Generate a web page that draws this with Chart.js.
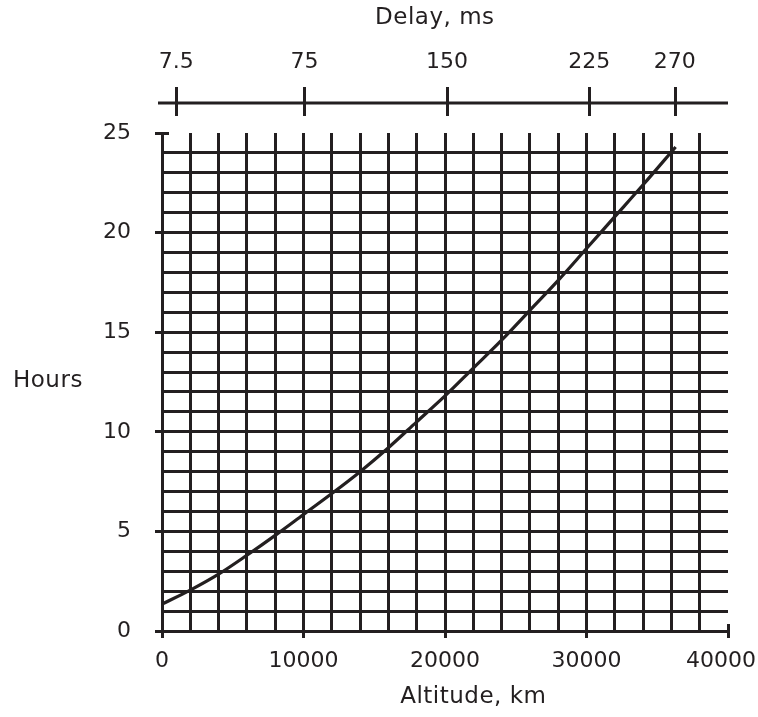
<!DOCTYPE html>
<html><head><meta charset="utf-8">
<script src="https://cdn.jsdelivr.net/npm/chart.js@4.4.1/dist/chart.umd.min.js"></script>
<style>html,body{margin:0;padding:0;background:#fff;} #wrap{width:758px;height:717px;position:relative;}</style>
</head><body><div id="wrap"><canvas id="c"></canvas></div>
<script>
// ---- data ----
const altitudeKm  = [0, 2000, 4000, 6000, 8000, 10000, 12000, 14000, 16000, 18000, 20000, 22000, 24000, 26000, 28000, 30000, 32000, 34000, 36300];
const periodHours = [1.35, 2.05, 2.85, 3.8, 4.8, 5.85, 6.9, 8.0, 9.2, 10.5, 11.8, 13.2, 14.6, 16.1, 17.6, 19.2, 20.8, 22.4, 24.3];
const altitudeTicks = [0, 10000, 20000, 30000, 40000];
const hourTicks = [0, 5, 10, 15, 20, 25];
const delayTicksMs = [7.5, 75, 150, 225, 270];
const delayTickLabels = ['7.5', '75', '150', '225', '270'];
const altitudeRange = [0, 40000];
const hourRange = [0, 25];
const delayRange = [0, 298];
const titles = {top: 'Delay, ms', bottom: 'Altitude, km', left: 'Hours'};

const ink = '#231f20';
const FONT = '"DejaVu Sans", sans-serif';
const clear = 'rgba(0,0,0,0)';

const axisDecor = {
  id: 'axisDecor',
  afterDraw(chart) {
    const {ctx, chartArea: a, scales} = chart;
    const x2 = scales.x2;
    const w = a.right - a.left;
    ctx.save();
    ctx.strokeStyle = ink; ctx.lineWidth = 3; ctx.lineCap = 'butt';
    const yLine = a.top - 30;
    ctx.beginPath(); ctx.moveTo(a.left - 4, yLine); ctx.lineTo(a.right, yLine); ctx.stroke();
    delayTicksMs.forEach(v => {
      const px = Math.round(x2.getPixelForValue(v)) + 0.5;
      ctx.beginPath(); ctx.moveTo(px, yLine - 16); ctx.lineTo(px, yLine + 13); ctx.stroke();
    });
    ctx.beginPath(); ctx.moveTo(a.left - 6, a.top + 0.5); ctx.lineTo(a.left + 7, a.top + 0.5); ctx.stroke();
    ctx.beginPath(); ctx.moveTo(a.right + 0.5, a.bottom - 7); ctx.lineTo(a.right + 0.5, a.bottom + 7); ctx.stroke();

    ctx.fillStyle = ink; ctx.font = '23px ' + FONT; ctx.textBaseline = 'middle';
    try { ctx.letterSpacing = '0.5px'; } catch (e) {}
    ctx.textAlign = 'left';
    ctx.fillText(titles.left, 13, (a.top + a.bottom) / 2 - 1);
    ctx.textAlign = 'center';
    ctx.fillText(titles.top, a.left + w * 0.482, 18);
    ctx.fillText(titles.bottom, a.left + w * 0.55, 697);
    ctx.restore();
  }
};

new Chart(document.getElementById('c'), {
  type: 'line',
  data: {
    datasets: [{
      data: altitudeKm.map((x, i) => ({x, y: periodHours[i]})),
      borderColor: ink, borderWidth: 3.2, pointRadius: 0,
      cubicInterpolationMode: 'monotone', fill: false,
      xAxisID: 'x', yAxisID: 'y'
    }]
  },
  options: {
    responsive: true, maintainAspectRatio: false, animation: false,
    events: [],
    layout: {padding: 0},
    plugins: {legend: {display: false}, tooltip: {enabled: false}},
    scales: {
      x: {
        type: 'linear', position: 'bottom', min: altitudeRange[0], max: altitudeRange[1],
        afterBuildTicks: s => { const t = []; for (let v = altitudeRange[0]; v <= altitudeRange[1]; v += 2000) t.push({value: v}); s.ticks = t; },
        afterFit: s => { s.height = 86; s.paddingLeft = 0; s.paddingRight = 30; },
        grid: {
          color: c => (c.tick && (c.tick.value === altitudeRange[0] || c.tick.value === altitudeRange[1])) ? clear : ink,
          tickColor: c => (c.tick && altitudeTicks.includes(c.tick.value)) ? ink : clear,
          lineWidth: 3, tickLength: 7, drawTicks: true
        },
        border: {display: true, color: ink, width: 3},
        ticks: {
          autoSkip: false, maxRotation: 0, padding: 10, color: ink,
          font: {family: FONT, size: 22},
          // last label nudged left (figure space) so it stays inside the canvas, as in the reference
          callback: v => altitudeTicks.includes(v) ? (v === altitudeRange[1] ? String(v) + '\u2007' : String(v)) : ''
        },
        title: {display: false}
      },
      x2: {
        type: 'linear', position: 'top', min: delayRange[0], max: delayRange[1],
        afterBuildTicks: s => { s.ticks = delayTicksMs.map(v => ({value: v})); },
        afterFit: s => { s.height = 133; s.paddingLeft = 0; s.paddingRight = 0; },
        grid: {display: false, drawTicks: false},
        border: {display: false},
        ticks: {
          autoSkip: false, maxRotation: 0, padding: 58, color: ink,
          font: {family: FONT, size: 22},
          callback: (v, i) => delayTickLabels[i]
        },
        title: {display: false}
      },
      y: {
        type: 'linear', position: 'left', min: hourRange[0], max: hourRange[1],
        afterBuildTicks: s => { const t = []; for (let v = hourRange[0]; v <= hourRange[1]; v += 1) t.push({value: v}); s.ticks = t; },
        afterFit: s => { s.width = 162; s.paddingTop = 0; s.paddingBottom = 0; },
        grid: {
          color: c => (c.tick && (c.tick.value === hourRange[0] || c.tick.value === hourRange[1])) ? clear : ink,
          tickColor: c => (c.tick && hourTicks.includes(c.tick.value)) ? ink : clear,
          lineWidth: 3, tickLength: 7, drawTicks: true
        },
        border: {display: true, color: ink, width: 3},
        ticks: {
          autoSkip: false, padding: 24, color: ink,
          font: {family: FONT, size: 22},
          callback: v => hourTicks.includes(v) ? String(v) : ''
        },
        title: {display: false}
      }
    }
  },
  plugins: [axisDecor]
});
</script>
</body></html>
